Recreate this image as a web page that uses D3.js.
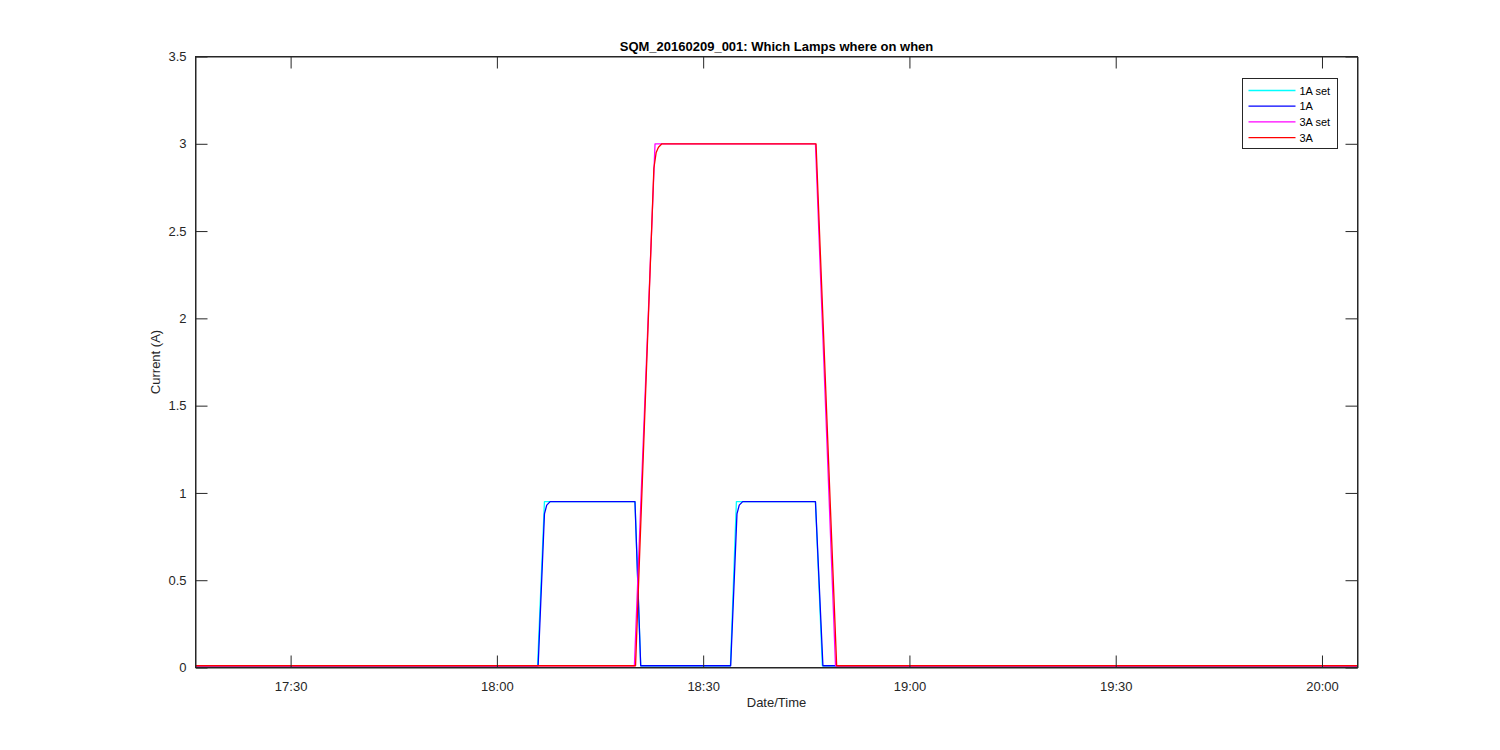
<!DOCTYPE html>
<html>
<head>
<meta charset="UTF-8">
<title>SQM_20160209_001</title>
<style>
  body { margin: 0; background: #fff; }
  svg text { font-family: "Liberation Sans", Arial, sans-serif; fill: #262626; }
  .axis path, .axis line { stroke: #262626; }
</style>
</head>
<body>
<svg width="1500" height="750"></svg>
<script src="https://d3js.org/d3.v7.min.js"></script>
<script>
// data (times on 2016-02-09)
const range = ["17:16:10", "20:05:10"];

const t1Aset = ["17:16:10", "18:05:55", "18:06:55", "18:20:05", "18:20:55", "18:33:58", "18:34:50", "18:46:20", "18:47:20", "20:05:10"];
const v1Aset = [0.01, 0.01, 0.95, 0.95, 0.01, 0.01, 0.95, 0.95, 0.01, 0.01];

const t1A = ["17:16:10", "18:06:00", "18:06:55", "18:07:15", "18:07:45", "18:20:05", "18:20:55", "18:34:00", "18:34:55", "18:35:15", "18:35:45", "18:46:20", "18:47:25", "20:05:10"];
const v1A = [0.01, 0.01, 0.88, 0.93, 0.95, 0.95, 0.01, 0.01, 0.88, 0.93, 0.95, 0.95, 0.01, 0.01];

const t3Aset = ["17:16:10", "18:20:00", "18:23:00", "18:46:20", "18:49:15", "20:05:10"];
const v3Aset = [0.01, 0.01, 3.0, 3.0, 0.01, 0.01];

const t3A = ["17:16:10", "18:20:10", "18:22:50", "18:23:10", "18:23:30", "18:24:00", "18:46:25", "18:49:25", "20:05:10"];
const v3A = [0.01, 0.01, 2.86, 2.95, 2.98, 3.0, 3.0, 0.01, 0.01];

const yTicks = [0, 0.5, 1, 1.5, 2, 2.5, 3, 3.5];
const xTicks = ["17:30", "18:00", "18:30", "19:00", "19:30", "20:00"];

const seriesNames = ["1A set", "1A", "3A set", "3A"];
const seriesColors = ["#00ffff", "#0000ff", "#ff00ff", "#ff0000"];

const parse = d3.timeParse("%Y-%m-%d %H:%M:%S");
const day = s => parse("2016-02-09 " + (s.length === 5 ? s + ":00" : s));

const series = [[t1Aset, v1Aset], [t1A, v1A], [t3Aset, v3Aset], [t3A, v3A]].map(([t, v], i) => ({
  name: seriesNames[i],
  color: seriesColors[i],
  points: t.map((s, j) => ({ t: day(s), v: v[j] }))
}));

const pLeft = 195.5, pRight = 1357.5, pTop = 56.5, pBottom = 667.5;
const svg = d3.select("svg");

const x = d3.scaleTime().domain(range.map(day)).range([pLeft, pRight]);
const y = d3.scaleLinear().domain([0, 3.5]).range([pBottom, pTop]);
const tickLen = 12;

svg.append("rect")
  .attr("x", pLeft).attr("y", pTop)
  .attr("width", pRight - pLeft).attr("height", pBottom - pTop)
  .attr("fill", "#fff");

const line = d3.line().x(d => x(d.t)).y(d => y(d.v));
const plot = svg.append("g");
series.forEach(s => {
  plot.append("path")
    .datum(s.points)
    .attr("fill", "none")
    .attr("stroke", s.color)
    .attr("stroke-width", 1.3)
    .attr("stroke-linejoin", "round")
    .attr("d", line);
});

const xt = xTicks.map(day);
const fmt = d3.timeFormat("%H:%M");

svg.append("g").attr("class", "axis")
  .attr("transform", `translate(0,${pBottom})`)
  .call(d3.axisBottom(x).tickValues(xt).tickFormat(fmt).tickSizeInner(-tickLen).tickSizeOuter(0).tickPadding(14))
  .call(g => g.selectAll("text").attr("font-size", 13));
svg.append("g").attr("class", "axis")
  .attr("transform", `translate(0,${pTop})`)
  .call(d3.axisTop(x).tickValues(xt).tickFormat("").tickSizeInner(-tickLen).tickSizeOuter(0));
svg.append("g").attr("class", "axis")
  .attr("transform", `translate(${pLeft},0)`)
  .call(d3.axisLeft(y).tickValues(yTicks).tickFormat(d3.format("")).tickSizeInner(-tickLen).tickSizeOuter(0).tickPadding(9))
  .call(g => g.selectAll("text").attr("font-size", 13));
svg.append("g").attr("class", "axis")
  .attr("transform", `translate(${pRight},0)`)
  .call(d3.axisRight(y).tickValues(yTicks).tickFormat("").tickSizeInner(-tickLen).tickSizeOuter(0));

svg.append("rect")
  .attr("x", pLeft).attr("y", pTop)
  .attr("width", pRight - pLeft).attr("height", pBottom - pTop)
  .attr("fill", "none").attr("stroke", "#262626");

// labels
svg.append("text")
  .attr("x", (pLeft + pRight) / 2).attr("y", 51)
  .attr("text-anchor", "middle")
  .attr("font-size", 13).attr("font-weight", "bold")
  .style("fill", "#000")
  .text("SQM_20160209_001: Which Lamps where on when");

svg.append("text")
  .attr("x", (pLeft + pRight) / 2).attr("y", 707)
  .attr("text-anchor", "middle")
  .attr("font-size", 13)
  .text("Date/Time");

svg.append("text")
  .attr("transform", `translate(160,${(pTop + pBottom) / 2}) rotate(-90)`)
  .attr("text-anchor", "middle")
  .attr("font-size", 13)
  .text("Current (A)");

// legend
const leg = svg.append("g").attr("transform", "translate(1242.5,78.5)");
leg.append("rect")
  .attr("width", 95).attr("height", 70)
  .attr("fill", "#fff").attr("stroke", "#262626");
series.forEach((s, i) => {
  const yy = 12 + i * 15.7;
  leg.append("line")
    .attr("x1", 6).attr("x2", 53)
    .attr("y1", yy).attr("y2", yy)
    .attr("stroke", s.color).attr("stroke-width", 1.3);
  leg.append("text")
    .attr("x", 57).attr("y", yy + 4)
    .attr("font-size", 11)
    .style("fill", "#000")
    .text(s.name);
});
</script>
</body>
</html>
